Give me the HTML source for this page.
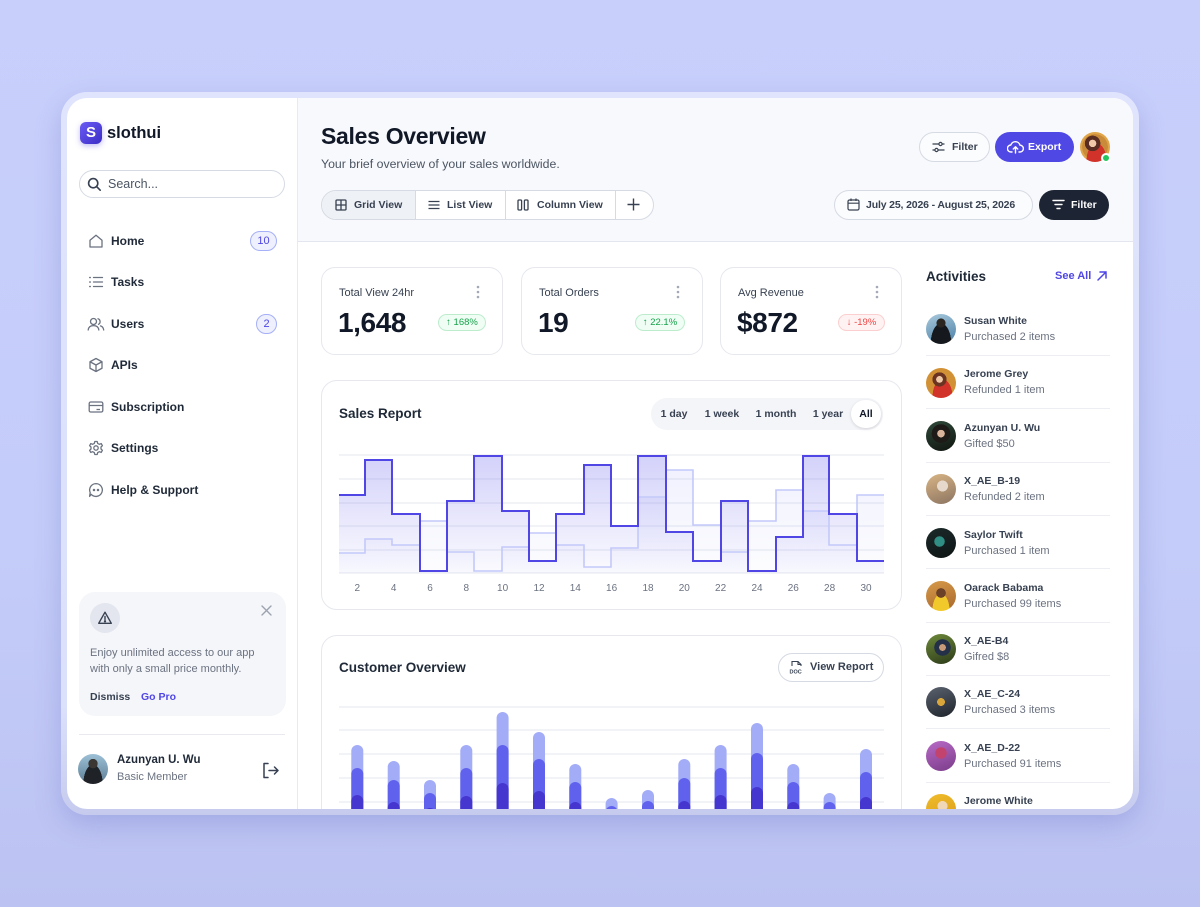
<!DOCTYPE html>
<html><head><meta charset="utf-8"><style>
*{margin:0;padding:0;box-sizing:border-box}
body{width:1200px;height:907px;overflow:hidden;background:linear-gradient(180deg,#c8cffb 0%,#c4ccf9 60%,#bcc3f2 100%);font-family:"Liberation Sans",sans-serif;color:#111827;position:relative}
.a{position:absolute}
.t{position:absolute;white-space:nowrap;line-height:1}
.b{font-weight:bold}
.clip{position:absolute;left:0;top:0;width:1200px;height:907px;clip-path:inset(98px 67px 98px 67px round 20px)}
.btn{position:absolute;border:1px solid #d6dae3;border-radius:15px}
.card{position:absolute;border:1px solid #e6e8ee;border-radius:14px;background:#fff}
.nav{position:absolute;left:111px;font-size:12px;font-weight:bold;color:#1f2937;line-height:1;white-space:nowrap}
.ic{position:absolute}
.av{position:absolute;width:30px;height:30px;border-radius:50%}
.nm{position:absolute;left:964px;font-size:10.5px;font-weight:bold;color:#374151;line-height:1;white-space:nowrap}
.sb{position:absolute;left:964px;font-size:11px;color:#6b7280;line-height:1;white-space:nowrap}
.dv{position:absolute;left:926px;width:184px;height:1px;background:#eceef3}
</style></head><body>
<div class="a" style="left:61px;top:92px;width:1078px;height:723px;border-radius:26px;background:linear-gradient(180deg,#e0e4fd 0%,#dbe0fb 85%,#c6cbee 100%);box-shadow:0 10px 26px rgba(90,100,190,.28)"></div>
<div class="clip">
<div class="a" style="left:67px;top:98px;width:1066px;height:711px;background:#fff"></div>
<!-- header bg -->
<div class="a" style="left:298px;top:98px;width:835px;height:144px;background:#f8f9fc;border-bottom:1px solid #e3e6ee"></div>
<div class="a" style="left:297px;top:98px;width:1px;height:711px;background:#e8eaf0"></div>

<!-- Sidebar -->
<div class="a" style="left:80px;top:122px;width:22px;height:22px;border-radius:6px;background:linear-gradient(135deg,#6a5cf5,#3a2cc4);box-shadow:0 2px 6px rgba(80,70,220,.35)"></div>
<div class="t b" style="left:80px;top:125px;width:22px;text-align:center;font-size:15px;color:#fff">S</div>
<div class="t b" style="left:107px;top:125px;font-size:16.5px;color:#111827">slothui</div>

<div class="btn" style="left:79px;top:170px;width:206px;height:28px;border-radius:14px;background:#fff"></div>
<svg class="ic" style="left:87px;top:177px" width="15" height="15" viewBox="0 0 15 15"><circle cx="6.2" cy="6.2" r="4.6" stroke="#374151" stroke-width="1.6" fill="none"/><path d="M9.6 9.6 L13.2 13.2" stroke="#374151" stroke-width="1.6" stroke-linecap="round"/></svg>
<div class="t" style="left:108px;top:178px;font-size:12.5px;color:#4b5563">Search...</div>

<!-- nav icons -->
<svg class="ic" style="left:88px;top:233px" width="16" height="16" viewBox="0 0 16 16" fill="none" stroke="#6b7280" stroke-width="1.3" stroke-linejoin="round"><path d="M2 7.2 L8 2.2 L14 7.2 V14 H2 Z"/></svg>
<div class="nav" style="top:235px">Home</div>
<div class="a" style="left:250px;top:231px;width:27px;height:20px;border-radius:10px;background:#eef0fe;border:1px solid #a5b0f6"></div>
<div class="t" style="left:250px;top:236px;width:27px;text-align:center;font-size:11px;color:#4f46e5">10</div>

<svg class="ic" style="left:88px;top:274px" width="16" height="16" viewBox="0 0 16 16" fill="none" stroke="#6b7280" stroke-width="1.3" stroke-linecap="round"><path d="M5.5 3.5H14.5 M5.5 8H14.5 M5.5 12.5H14.5"/><path d="M1.8 3.5H2.2 M1.8 8H2.2 M1.8 12.5H2.2" stroke-width="1.6"/></svg>
<div class="nav" style="top:276px">Tasks</div>

<svg class="ic" style="left:87px;top:316px" width="18" height="16" viewBox="0 0 18 16" fill="none" stroke="#6b7280" stroke-width="1.3" stroke-linecap="round"><circle cx="6.5" cy="5.5" r="3"/><path d="M1.2 14 C1.5 10.8 3.6 9.6 6.5 9.6 S11.5 10.8 11.8 14"/><path d="M11 2.8 A3 3 0 0 1 11.5 8.3 M13.5 9.9 C15.3 10.5 16.4 11.8 16.7 14"/></svg>
<div class="nav" style="top:318px">Users</div>
<div class="a" style="left:256px;top:314px;width:21px;height:20px;border-radius:10px;background:#eef0fe;border:1px solid #a5b0f6"></div>
<div class="t" style="left:256px;top:319px;width:21px;text-align:center;font-size:11px;color:#4f46e5">2</div>

<svg class="ic" style="left:88px;top:357px" width="16" height="16" viewBox="0 0 16 16" fill="none" stroke="#6b7280" stroke-width="1.3" stroke-linejoin="round"><path d="M8 1.5 L14 4.75 V11.25 L8 14.5 L2 11.25 V4.75 Z M2 4.75 L8 8 L14 4.75 M8 8 V14.5"/></svg>
<div class="nav" style="top:359px">APIs</div>

<svg class="ic" style="left:88px;top:399px" width="16" height="16" viewBox="0 0 16 16" fill="none" stroke="#6b7280" stroke-width="1.3"><rect x="1.2" y="3" width="13.6" height="10" rx="1.5"/><path d="M1.2 6.5 H14.8 M8.5 10.5 H12"/></svg>
<div class="nav" style="top:401px">Subscription</div>

<svg class="ic" style="left:88px;top:440px" width="16" height="16" viewBox="0 0 16 16" fill="none" stroke="#6b7280" stroke-width="1.3" stroke-linejoin="round"><path d="M6.8 1.5 H9.2 L9.7 3.4 L11.4 4.3 L13.2 3.6 L14.4 5.7 L13 7 V9 L14.4 10.3 L13.2 12.4 L11.4 11.7 L9.7 12.6 L9.2 14.5 H6.8 L6.3 12.6 L4.6 11.7 L2.8 12.4 L1.6 10.3 L3 9 V7 L1.6 5.7 L2.8 3.6 L4.6 4.3 L6.3 3.4 Z"/><circle cx="8" cy="8" r="2.2"/></svg>
<div class="nav" style="top:442px">Settings</div>

<svg class="ic" style="left:88px;top:482px" width="16" height="16" viewBox="0 0 16 16" fill="none" stroke="#6b7280" stroke-width="1.3"><path d="M8 1.6 A6.4 6.4 0 1 1 3.2 12.3 L1.6 14.4 L2.2 10.6 A6.4 6.4 0 0 1 8 1.6 Z" stroke-linejoin="round"/><circle cx="6" cy="8" r=".6" fill="#6b7280"/><circle cx="10" cy="8" r=".6" fill="#6b7280"/></svg>
<div class="nav" style="top:484px">Help &amp; Support</div>

<!-- promo -->
<div class="a" style="left:79px;top:592px;width:207px;height:124px;border-radius:16px;background:#f5f6fa"></div>
<div class="a" style="left:90px;top:603px;width:30px;height:30px;border-radius:50%;background:#e3e6ee"></div>
<svg class="ic" style="left:97px;top:610px" width="16" height="16" viewBox="0 0 16 16" fill="none" stroke="#374151" stroke-width="1.4" stroke-linejoin="round"><path d="M8 2.2 L14.3 13.3 H1.7 Z"/><path d="M8 6.5 V9.5" stroke-linecap="round"/><circle cx="8" cy="11.3" r=".5" fill="#374151"/></svg>
<svg class="ic" style="left:261px;top:605px" width="11" height="11" viewBox="0 0 11 11" stroke="#9ca3af" stroke-width="1.4" stroke-linecap="round"><path d="M1 1 L10 10 M10 1 L1 10"/></svg>
<div class="t" style="left:90px;top:648px;font-size:11px;color:#6b7280">Enjoy unlimited access to our app</div>
<div class="t" style="left:90px;top:664px;font-size:11px;color:#6b7280">with only a small price monthly.</div>
<div class="t b" style="left:90px;top:692px;font-size:10.5px;color:#374151">Dismiss</div>
<div class="t b" style="left:141px;top:692px;font-size:10.5px;color:#4f46e5">Go Pro</div>
<div class="a" style="left:79px;top:734px;width:206px;height:1px;background:#e8eaf0"></div>
<div class="av" style="left:78px;top:754px;background:radial-gradient(circle at 50% 32%,#3b3631 0 18%,transparent 19%),radial-gradient(ellipse at 50% 100%,#1f2227 0 45%,transparent 46%),linear-gradient(180deg,#9cc0d6,#5d7e94)"></div>
<div class="t b" style="left:117px;top:755px;font-size:11.5px;color:#1f2937">Azunyan U. Wu</div>
<div class="t" style="left:117px;top:772px;font-size:11px;color:#6b7280">Basic Member</div>
<svg class="ic" style="left:262px;top:762px" width="18" height="17" viewBox="0 0 18 17" fill="none" stroke="#374151" stroke-width="1.5" stroke-linecap="round" stroke-linejoin="round"><path d="M6 1.5 H2 V15.5 H6"/><path d="M7 8.5 H16 M12.5 5 L16 8.5 L12.5 12"/></svg>

<!-- Header -->
<div class="t b" style="left:321px;top:125px;font-size:23px;letter-spacing:-0.3px;color:#111827">Sales Overview</div>
<div class="t" style="left:321px;top:158px;font-size:12.3px;color:#4b5563">Your brief overview of your sales worldwide.</div>

<div class="btn" style="left:321px;top:190px;width:333px;height:30px;background:#fff;overflow:hidden">
 <div class="a" style="left:0;top:0;width:94px;height:30px;background:#eef1f6"></div>
 <div class="a" style="left:93px;top:0;width:1px;height:30px;background:#d6dae3"></div>
 <div class="a" style="left:183px;top:0;width:1px;height:30px;background:#d6dae3"></div>
 <div class="a" style="left:293px;top:0;width:1px;height:30px;background:#d6dae3"></div>
</div>
<svg class="ic" style="left:335px;top:199px" width="12" height="12" viewBox="0 0 12 12" fill="none" stroke="#374151" stroke-width="1.3"><rect x="1" y="1" width="10" height="10" rx="1"/><path d="M6 1V11 M1 6H11"/></svg>
<div class="t b" style="left:354px;top:200px;font-size:10.5px;color:#374151">Grid View</div>
<svg class="ic" style="left:428px;top:199px" width="12" height="12" viewBox="0 0 12 12" stroke="#374151" stroke-width="1.3"><path d="M0.5 2.5H11.5 M0.5 6H11.5 M0.5 9.5H11.5"/></svg>
<div class="t b" style="left:447px;top:200px;font-size:10.5px;color:#374151">List View</div>
<svg class="ic" style="left:517px;top:199px" width="12" height="12" viewBox="0 0 12 12" fill="none" stroke="#374151" stroke-width="1.3"><rect x="1" y="1" width="3.6" height="10" rx="1"/><rect x="7.4" y="1" width="3.6" height="10" rx="1"/></svg>
<div class="t b" style="left:537px;top:200px;font-size:10.5px;color:#374151">Column View</div>
<svg class="ic" style="left:627px;top:198px" width="13" height="13" viewBox="0 0 13 13" stroke="#374151" stroke-width="1.4"><path d="M6.5 0.5V12.5 M0.5 6.5H12.5"/></svg>

<div class="btn" style="left:919px;top:132px;width:71px;height:30px;background:#fbfcfd"></div>
<svg class="ic" style="left:932px;top:141px" width="13" height="12" viewBox="0 0 13 12" fill="none" stroke="#374151" stroke-width="1.2"><path d="M0.5 3H12.5 M0.5 9H12.5"/><circle cx="8.5" cy="3" r="1.6" fill="#fbfcfd"/><circle cx="4.5" cy="9" r="1.6" fill="#fbfcfd"/></svg>
<div class="t b" style="left:952px;top:142px;font-size:10.5px;color:#374151">Filter</div>
<div class="a" style="left:995px;top:132px;width:79px;height:30px;border-radius:15px;background:#5048e5"></div>
<svg class="ic" style="left:1007px;top:140px" width="17" height="14" viewBox="0 0 17 14" fill="none" stroke="#fff" stroke-width="1.4" stroke-linecap="round" stroke-linejoin="round"><path d="M5 12 H4 A3.5 3.5 0 0 1 3.8 5 A4.8 4.8 0 0 1 13 5.2 A3.4 3.4 0 0 1 13 12 H12"/><path d="M8.5 13 V7 M6.3 9 L8.5 6.8 L10.7 9"/></svg>
<div class="t b" style="left:1028px;top:142px;font-size:10.5px;color:#fff">Export</div>
<div class="av" style="left:1080px;top:132px;background:radial-gradient(circle at 42% 38%,#f0c9a8 0 14%,#5a2d22 15% 30%,transparent 31%),radial-gradient(ellipse at 55% 95%,#d1322a 0 42%,transparent 43%),radial-gradient(circle,#c98a3a 0 60%,#e0a548 61%)"></div>
<div class="a" style="left:1101px;top:153px;width:10px;height:10px;border-radius:50%;background:#22c55e;border:2px solid #fff"></div>

<div class="btn" style="left:834px;top:190px;width:199px;height:30px;background:#fbfcfd"></div>
<svg class="ic" style="left:847px;top:198px" width="13" height="13" viewBox="0 0 13 13" fill="none" stroke="#374151" stroke-width="1.2"><rect x="1" y="2" width="11" height="10" rx="1.5"/><path d="M1 5.2H12 M4 0.5V3 M9 0.5V3"/></svg>
<div class="t b" style="left:866px;top:200px;font-size:10.5px;letter-spacing:-0.15px;color:#374151">July 25, 2026 - August 25, 2026</div>
<div class="a" style="left:1039px;top:190px;width:70px;height:30px;border-radius:15px;background:#1d2433"></div>
<svg class="ic" style="left:1052px;top:199px" width="13" height="11" viewBox="0 0 13 11" stroke="#fff" stroke-width="1.4" stroke-linecap="round"><path d="M1 1.5H12 M3 5.5H10 M5 9.5H8"/></svg>
<div class="t b" style="left:1071px;top:200px;font-size:10.5px;color:#fff">Filter</div>

<!-- Stat cards -->
<div class="card" style="left:321px;top:267px;width:182px;height:88px"></div>
<div class="card" style="left:521px;top:267px;width:182px;height:88px"></div>
<div class="card" style="left:720px;top:267px;width:182px;height:88px"></div>
<div class="t" style="left:339px;top:288px;font-size:11px;color:#374151">Total View 24hr</div>
<div class="t" style="left:539px;top:288px;font-size:11px;color:#374151">Total Orders</div>
<div class="t" style="left:738px;top:288px;font-size:11px;color:#374151">Avg Revenue</div>
<svg class="ic" style="left:476px;top:285px" width="4" height="14"><circle cx="2" cy="2" r="1.3" fill="#a3a9b5"/><circle cx="2" cy="7" r="1.3" fill="#a3a9b5"/><circle cx="2" cy="12" r="1.3" fill="#a3a9b5"/></svg>
<svg class="ic" style="left:676px;top:285px" width="4" height="14"><circle cx="2" cy="2" r="1.3" fill="#a3a9b5"/><circle cx="2" cy="7" r="1.3" fill="#a3a9b5"/><circle cx="2" cy="12" r="1.3" fill="#a3a9b5"/></svg>
<svg class="ic" style="left:875px;top:285px" width="4" height="14"><circle cx="2" cy="2" r="1.3" fill="#a3a9b5"/><circle cx="2" cy="7" r="1.3" fill="#a3a9b5"/><circle cx="2" cy="12" r="1.3" fill="#a3a9b5"/></svg>
<div class="t b" style="left:338px;top:309px;font-size:28px;letter-spacing:-0.4px;color:#111827">1,648</div>
<div class="t b" style="left:538px;top:309px;font-size:28px;letter-spacing:-0.4px;color:#111827">19</div>
<div class="t b" style="left:737px;top:309px;font-size:28px;letter-spacing:-0.4px;color:#111827">$872</div>
<div class="a" style="left:438px;top:314px;width:48px;height:17px;border-radius:9px;background:#effdf4;border:1px solid #bdeccd"></div>
<div class="t" style="left:438px;top:318px;width:48px;text-align:center;font-size:9.5px;color:#16a34a">↑ 168%</div>
<div class="a" style="left:635px;top:314px;width:50px;height:17px;border-radius:9px;background:#effdf4;border:1px solid #bdeccd"></div>
<div class="t" style="left:635px;top:318px;width:50px;text-align:center;font-size:9.5px;color:#16a34a">↑ 22.1%</div>
<div class="a" style="left:838px;top:314px;width:47px;height:17px;border-radius:9px;background:#fef2f2;border:1px solid #fbcfcf"></div>
<div class="t" style="left:838px;top:318px;width:47px;text-align:center;font-size:9.5px;color:#ef4444">↓ -19%</div>

<!-- Sales report -->
<div class="card" style="left:321px;top:380px;width:581px;height:230px;border-radius:16px"></div>
<div class="t b" style="left:339px;top:407px;font-size:13.5px;color:#1f2937">Sales Report</div>
<div class="a" style="left:651px;top:398px;width:232px;height:32px;border-radius:16px;background:#f4f5f9"></div>
<div class="a" style="left:851px;top:400px;width:30px;height:28px;border-radius:14px;background:#fff;box-shadow:0 1px 3px rgba(0,0,0,.14)"></div>
<div class="t b" style="left:654px;top:409px;width:40px;text-align:center;font-size:10.5px;color:#374151">1 day</div>
<div class="t b" style="left:697px;top:409px;width:50px;text-align:center;font-size:10.5px;color:#374151">1 week</div>
<div class="t b" style="left:746px;top:409px;width:60px;text-align:center;font-size:10.5px;color:#374151">1 month</div>
<div class="t b" style="left:803px;top:409px;width:50px;text-align:center;font-size:10.5px;color:#374151">1 year</div>
<div class="t b" style="left:851px;top:409px;width:30px;text-align:center;font-size:10.5px;color:#111827">All</div>

<!-- Customer overview -->
<div class="card" style="left:321px;top:635px;width:581px;height:230px;border-radius:16px"></div>
<div class="t b" style="left:339px;top:661px;font-size:13.5px;color:#1f2937">Customer Overview</div>
<div class="btn" style="left:778px;top:653px;width:106px;height:29px;background:#fff"></div>
<svg class="ic" style="left:789px;top:660px" width="15" height="15" viewBox="0 0 15 15" fill="none" stroke="#374151" stroke-width="1.1"><path d="M3 6 V1.5 H9 L12 4.5 V6 M9 1.5 V4.5 H12"/><text x="0.5" y="13.5" font-size="5.5" font-weight="bold" fill="#374151" stroke="none" font-family="Liberation Sans">DOC</text></svg>
<div class="t b" style="left:810px;top:662px;font-size:11px;color:#374151">View Report</div>

<!-- charts -->
<svg class="a" style="left:0;top:0" width="1200" height="907">
<defs>
<linearGradient id="gd" gradientUnits="userSpaceOnUse" x1="0" y1="455" x2="0" y2="573"><stop offset="0" stop-color="#6c66ee" stop-opacity=".3"/><stop offset="1" stop-color="#6c66ee" stop-opacity=".03"/></linearGradient>
<linearGradient id="gl" gradientUnits="userSpaceOnUse" x1="0" y1="455" x2="0" y2="573"><stop offset="0" stop-color="#8b93f3" stop-opacity=".14"/><stop offset="1" stop-color="#8b93f3" stop-opacity=".02"/></linearGradient>
</defs>
<g stroke="#e4e7ef" stroke-width="1">
<path d="M339 455H884 M339 479H884 M339 503H884 M339 526H884 M339 550H884 M339 573H884"/>
<path d="M339 707H884 M339 730H884 M339 754H884 M339 778H884 M339 802H884"/>
</g>
<path d="M339,553 H365 V539 H392 V545 H420 V521 H447 V552 H474 V571 H502 V547 H529 V533 H556 V545 H584 V567 H611 V548 H638 V497 H666 V470 H693 V525 H721 V552 H748 V521 H776 V490 H803 V511 H829 V545 H857 V495 H884 V573 H339 Z" fill="url(#gl)"/>
<path d="M339,495 H365 V460 H392 V514 H420 V571 H447 V501 H474 V456 H502 V511 H529 V561 H556 V514 H584 V465 H611 V526 H638 V456 H666 V532 H693 V561 H721 V501 H748 V571 H776 V537 H803 V456 H829 V514 H857 V561 H884 V573 H339 Z" fill="url(#gd)"/>
<path d="M339,553 H365 V539 H392 V545 H420 V521 H447 V552 H474 V571 H502 V547 H529 V533 H556 V545 H584 V567 H611 V548 H638 V497 H666 V470 H693 V525 H721 V552 H748 V521 H776 V490 H803 V511 H829 V545 H857 V495 H884" fill="none" stroke="#c3c9fa" stroke-width="1.6"/>
<path d="M339,495 H365 V460 H392 V514 H420 V571 H447 V501 H474 V456 H502 V511 H529 V561 H556 V514 H584 V465 H611 V526 H638 V456 H666 V532 H693 V561 H721 V501 H748 V571 H776 V537 H803 V456 H829 V514 H857 V561 H884" fill="none" stroke="#4f46e5" stroke-width="2"/>
<g font-family="Liberation Sans" font-size="10" fill="#6b7280" text-anchor="middle">
<text x="357.3" y="591">2</text><text x="393.7" y="591">4</text><text x="430" y="591">6</text><text x="466.3" y="591">8</text><text x="502.6" y="591">10</text><text x="539" y="591">12</text><text x="575.3" y="591">14</text><text x="611.6" y="591">16</text><text x="648" y="591">18</text><text x="684.3" y="591">20</text><text x="720.6" y="591">22</text><text x="757" y="591">24</text><text x="793.3" y="591">26</text><text x="829.6" y="591">28</text><text x="866" y="591">30</text>
</g>
<g>
<g fill="#a3acf7">
<rect x="351.3" y="745" width="12" height="80" rx="6"/><rect x="387.7" y="761" width="12" height="80" rx="6"/><rect x="424" y="780" width="12" height="80" rx="6"/><rect x="460.3" y="745" width="12" height="80" rx="6"/><rect x="496.6" y="712" width="12" height="120" rx="6"/><rect x="533" y="732" width="12" height="100" rx="6"/><rect x="569.3" y="764" width="12" height="80" rx="6"/><rect x="605.6" y="798" width="12" height="40" rx="6"/><rect x="642" y="790" width="12" height="40" rx="6"/><rect x="678.3" y="759" width="12" height="80" rx="6"/><rect x="714.6" y="745" width="12" height="80" rx="6"/><rect x="751" y="723" width="12" height="100" rx="6"/><rect x="787.3" y="764" width="12" height="80" rx="6"/><rect x="823.6" y="793" width="12" height="40" rx="6"/><rect x="860" y="749" width="12" height="80" rx="6"/>
</g>
<g fill="#6062ee">
<rect x="351.3" y="768" width="12" height="60" rx="6"/><rect x="387.7" y="780" width="12" height="60" rx="6"/><rect x="424" y="793" width="12" height="60" rx="6"/><rect x="460.3" y="768" width="12" height="60" rx="6"/><rect x="496.6" y="745" width="12" height="80" rx="6"/><rect x="533" y="759" width="12" height="60" rx="6"/><rect x="569.3" y="782" width="12" height="60" rx="6"/><rect x="605.6" y="806" width="12" height="40" rx="6"/><rect x="642" y="801" width="12" height="40" rx="6"/><rect x="678.3" y="778" width="12" height="60" rx="6"/><rect x="714.6" y="768" width="12" height="60" rx="6"/><rect x="751" y="753" width="12" height="80" rx="6"/><rect x="787.3" y="782" width="12" height="60" rx="6"/><rect x="823.6" y="802" width="12" height="40" rx="6"/><rect x="860" y="772" width="12" height="60" rx="6"/>
</g>
<g fill="#4536cf">
<rect x="351.3" y="795" width="12" height="40" rx="6"/><rect x="387.7" y="802" width="12" height="40" rx="6"/><rect x="424" y="808" width="12" height="40" rx="6"/><rect x="460.3" y="796" width="12" height="40" rx="6"/><rect x="496.6" y="783" width="12" height="40" rx="6"/><rect x="533" y="791" width="12" height="40" rx="6"/><rect x="569.3" y="802" width="12" height="40" rx="6"/><rect x="678.3" y="801" width="12" height="40" rx="6"/><rect x="714.6" y="795" width="12" height="40" rx="6"/><rect x="751" y="787" width="12" height="40" rx="6"/><rect x="787.3" y="802" width="12" height="40" rx="6"/><rect x="860" y="797" width="12" height="40" rx="6"/>
</g>
</g>
</svg>

<!-- Activities -->
<div class="t b" style="left:926px;top:270px;font-size:13.5px;color:#1f2937">Activities</div>
<div class="t b" style="left:1055px;top:271px;font-size:11px;color:#4f46e5">See All</div>
<svg class="ic" style="left:1096px;top:270px" width="12" height="12" viewBox="0 0 12 12" fill="none" stroke="#4f46e5" stroke-width="1.5" stroke-linecap="round"><path d="M2 10 L10 2 M4 2 H10 V8"/></svg>

<div class="av" style="left:926px;top:314px;background:radial-gradient(circle at 50% 30%,#2b2622 0 17%,transparent 18%),radial-gradient(ellipse at 50% 100%,#15181d 0 48%,transparent 49%),linear-gradient(160deg,#a9c9dc,#4a7fa6)"></div>
<div class="nm" style="top:316px">Susan White</div><div class="sb" style="top:332px">Purchased 2 items</div>
<div class="dv" style="top:355px"></div>

<div class="av" style="left:926px;top:368px;background:radial-gradient(circle at 45% 38%,#f0c9a8 0 13%,#6a3322 14% 28%,transparent 29%),radial-gradient(ellipse at 55% 95%,#d1322a 0 42%,transparent 43%),radial-gradient(circle,#d39136 0 70%,#e3a84c 71%)"></div>
<div class="nm" style="top:369px">Jerome Grey</div><div class="sb" style="top:385px">Refunded 1 item</div>
<div class="dv" style="top:408px"></div>

<div class="av" style="left:926px;top:421px;background:radial-gradient(circle at 50% 42%,#d9b49a 0 16%,#1d1a18 17% 40%,transparent 41%),linear-gradient(160deg,#2f4a3a,#101410)"></div>
<div class="nm" style="top:423px">Azunyan U. Wu</div><div class="sb" style="top:439px">Gifted $50</div>
<div class="dv" style="top:462px"></div>

<div class="av" style="left:926px;top:474px;background:radial-gradient(circle at 55% 40%,#e7d8cc 0 22%,transparent 23%),linear-gradient(160deg,#d9b585,#8b7462)"></div>
<div class="nm" style="top:476px">X_AE_B-19</div><div class="sb" style="top:492px">Refunded 2 item</div>
<div class="dv" style="top:515px"></div>

<div class="av" style="left:926px;top:528px;background:radial-gradient(circle at 45% 45%,#2f8f85 0 22%,transparent 23%),linear-gradient(160deg,#1c2a2a,#0e1414)"></div>
<div class="nm" style="top:530px">Saylor Twift</div><div class="sb" style="top:546px">Purchased 1 item</div>
<div class="dv" style="top:568px"></div>

<div class="av" style="left:926px;top:581px;background:radial-gradient(circle at 50% 40%,#6b4128 0 20%,transparent 21%),radial-gradient(ellipse at 50% 100%,#f2c92a 0 40%,transparent 41%),linear-gradient(160deg,#d79a4a,#a8672b)"></div>
<div class="nm" style="top:583px">Oarack Babama</div><div class="sb" style="top:599px">Purchased 99 items</div>
<div class="dv" style="top:622px"></div>

<div class="av" style="left:926px;top:634px;background:radial-gradient(circle at 55% 45%,#c79a7a 0 14%,#233048 15% 35%,transparent 36%),linear-gradient(160deg,#6e8a3a,#2c3a1a)"></div>
<div class="nm" style="top:636px">X_AE-B4</div><div class="sb" style="top:652px">Gifred $8</div>
<div class="dv" style="top:675px"></div>

<div class="av" style="left:926px;top:687px;background:radial-gradient(circle at 50% 50%,#d9a63a 0 18%,transparent 19%),linear-gradient(160deg,#5b6370,#1f242b)"></div>
<div class="nm" style="top:689px">X_AE_C-24</div><div class="sb" style="top:705px">Purchased 3 items</div>
<div class="dv" style="top:728px"></div>

<div class="av" style="left:926px;top:741px;background:radial-gradient(circle at 50% 40%,#c2436d 0 24%,transparent 25%),linear-gradient(160deg,#b86bc6,#7b3c8a)"></div>
<div class="nm" style="top:743px">X_AE_D-22</div><div class="sb" style="top:759px">Purchased 91 items</div>
<div class="dv" style="top:782px"></div>

<div class="av" style="left:926px;top:794px;background:radial-gradient(circle at 55% 40%,#f0d7b8 0 20%,transparent 21%),linear-gradient(160deg,#f0bd2c,#d99a18)"></div>
<div class="nm" style="top:796px">Jerome White</div>
</div>
</body></html>
